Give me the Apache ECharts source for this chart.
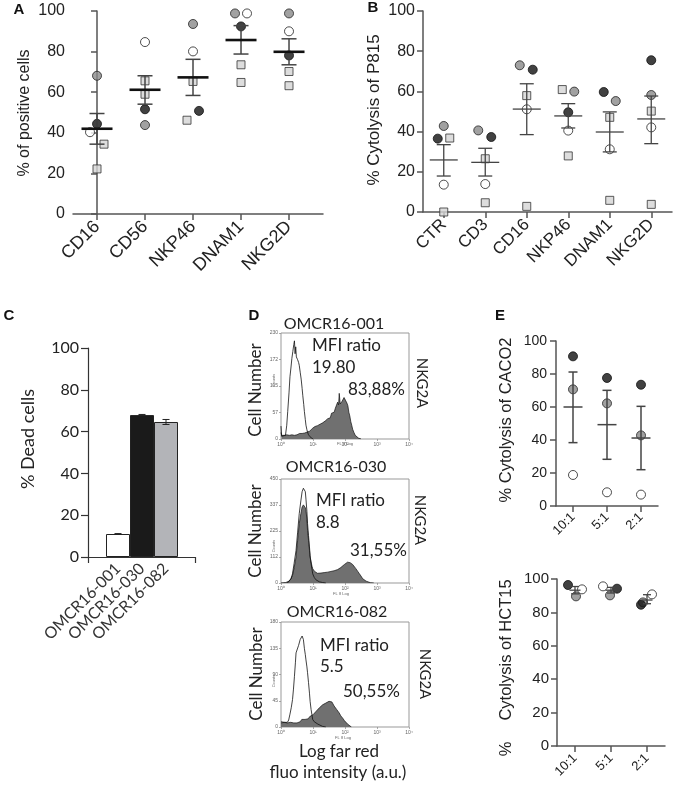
<!DOCTYPE html>
<html><head><meta charset="utf-8">
<script src="https://cdn.jsdelivr.net/npm/echarts@6/dist/echarts.min.js"></script>
<style>html,body{margin:0;padding:0;background:#fff}#c{width:676px;height:786px}</style>
</head><body><div id="c"></div>
<script>
// ---------- Panel A ----------
const catA = ['CD16','CD56','NKP46','DNAM1','NKG2D'];
const A_gray   = [68.1, 43.8, 93.6, 98.8, 98.8];
const A_black  = [44.4, 51.6, 50.8, 92.4, 78.1];
const A_white  = [40.3, 84.7, 80.1, 98.8, 90.0];
const A_sqHigh = [34.4, 65.6, 65.3, 73.5, 70.2];
const A_sqLow  = [22.2, 59.0, 46.2, 64.8, 63.2];
const A_mean   = [42.0, 61.2, 67.3, 85.7, 79.9];
const A_semHi  = [49.5, 68.1, 76.2, 92.8, 86.3];
const A_semLo  = [34.4, 54.1, 58.4, 78.8, 73.5];
// ---------- Panel B ----------
const catB = ['CTR','CD3','CD16','NKP46','DNAM1','NKG2D'];
const B_gray   = [42.8, 40.6, 73.0, 59.9, 55.2, 58.2];
const B_black  = [36.5, 37.3, 70.8, 49.6, 59.7, 75.5];
const B_white  = [13.6, 13.9, 51.1, 40.5, 31.2, 42.1];
const B_sqHigh = [36.8, 26.5, 57.9, 60.9, 47.1, 50.2];
const B_sqLow  = [0.0, 4.6, 2.8, 27.9, 5.8, 3.8];
const B_mean   = [25.9, 24.7, 51.2, 47.8, 39.8, 46.3];
const B_semHi  = [33.5, 31.7, 63.8, 53.9, 49.8, 57.7];
const B_semLo  = [17.9, 17.9, 38.5, 41.8, 29.9, 34.0];
// ---------- Panel C ----------
const catC = ['OMCR16-001','OMCR16-030','OMCR16-082'];
const C_values = [11.0, 67.9, 64.6];
const C_err    = [0.2, 0.3, 1.2];
// ---------- Panel D (histograms: [log decade, counts]) ----------
const D1_ctrl = [[0,28],[0.02,6],[0.08,4],[0.14,8],[0.18,30],[0.21,60],[0.25,100],[0.28,135],[0.31,154],[0.34,175],[0.37,190],[0.40,205],[0.42,213],[0.44,185],[0.46,200],[0.48,178],[0.50,182],[0.52,172],[0.55,166],[0.57,160],[0.60,145],[0.63,130],[0.66,110],[0.68,95],[0.71,75],[0.73,60],[0.76,42],[0.78,30],[0.81,20],[0.83,15],[0.86,9],[0.89,5],[0.95,2],[1.0,0]];
const D1_nkg2a = [[0,14],[0.02,8],[0.06,10],[0.1,8],[0.14,11],[0.18,9],[0.22,10],[0.26,8],[0.3,11],[0.34,9],[0.38,10],[0.42,8],[0.46,11],[0.5,9],[0.54,10],[0.58,12],[0.62,10],[0.66,12],[0.7,11],[0.74,13],[0.78,12],[0.82,15],[0.86,14],[0.9,17],[0.94,19],[0.98,23],[1.02,21],[1.06,27],[1.1,25],[1.14,29],[1.18,27],[1.22,32],[1.26,30],[1.3,35],[1.34,33],[1.38,39],[1.42,37],[1.46,44],[1.5,48],[1.54,46],[1.58,56],[1.62,60],[1.66,58],[1.7,67],[1.74,70],[1.77,80],[1.8,74],[1.82,99],[1.85,76],[1.88,74],[1.91,82],[1.94,78],[1.97,90],[2.0,86],[2.03,90],[2.06,78],[2.09,72],[2.12,58],[2.15,50],[2.18,38],[2.21,30],[2.24,21],[2.28,14],[2.32,8],[2.36,5],[2.42,2],[2.5,0]];
const D2_ctrl = [[0.2,0],[0.26,5],[0.31,18],[0.36,40],[0.41,85],[0.47,141],[0.52,220],[0.57,300],[0.62,355],[0.66,395],[0.7,410],[0.73,418],[0.76,395],[0.78,363],[0.81,310],[0.83,257],[0.86,205],[0.89,156],[0.91,118],[0.94,84],[0.97,58],[0.99,40],[1.04,24],[1.09,14],[1.15,8],[1.2,5],[1.3,2],[1.4,0]];
const D2_nkg2a = [[0,0],[0.15,2],[0.26,9],[0.31,18],[0.36,33],[0.41,65],[0.47,112],[0.52,185],[0.57,257],[0.62,300],[0.66,329],[0.7,338],[0.73,335],[0.76,326],[0.78,314],[0.81,275],[0.83,228],[0.86,185],[0.89,141],[0.91,112],[0.94,91],[0.97,72],[0.99,62],[1.02,56],[1.05,50],[1.09,45],[1.14,42],[1.2,40],[1.25,43],[1.3,41],[1.35,45],[1.41,44],[1.46,47],[1.51,46],[1.56,50],[1.61,49],[1.66,53],[1.72,55],[1.77,58],[1.82,62],[1.87,67],[1.93,72],[1.98,80],[2.03,84],[2.08,90],[2.12,93],[2.16,88],[2.2,86],[2.24,80],[2.29,72],[2.34,62],[2.4,50],[2.45,40],[2.5,30],[2.55,19],[2.6,13],[2.66,8],[2.72,4],[2.8,1],[2.9,0]];
const D3_ctrl = [[0,9],[0.05,6],[0.1,8],[0.15,6],[0.2,8],[0.24,12],[0.28,22],[0.32,33],[0.36,47],[0.39,65],[0.42,87],[0.45,110],[0.47,127],[0.5,132],[0.52,135],[0.55,140],[0.57,144],[0.6,150],[0.63,153],[0.66,156],[0.68,158],[0.7,150],[0.73,135],[0.76,124],[0.78,115],[0.81,103],[0.83,93],[0.86,76],[0.89,58],[0.91,44],[0.94,30],[0.97,20],[0.99,13],[1.04,9],[1.09,7],[1.15,5],[1.2,3],[1.3,1],[1.4,0]];
const D3_nkg2a = [[0,7],[0.05,5],[0.1,8],[0.15,6],[0.2,7],[0.25,5],[0.3,8],[0.35,6],[0.4,7],[0.45,9],[0.5,7],[0.55,10],[0.6,9],[0.65,13],[0.7,15],[0.75,13],[0.8,16],[0.85,14],[0.9,18],[0.95,19],[1.0,21],[1.05,24],[1.1,27],[1.15,30],[1.2,33],[1.25,35],[1.3,38],[1.35,39],[1.4,41],[1.45,42],[1.5,44],[1.53,46],[1.56,47],[1.59,43],[1.62,40],[1.66,36],[1.7,34],[1.74,30],[1.78,27],[1.82,24],[1.87,19],[1.93,15],[1.98,11],[2.03,8],[2.08,5],[2.14,2],[2.2,0]];
const D_titles = ['OMCR16-001','OMCR16-030','OMCR16-082'];
const D_mfi = ['19.80','8.8','5.5'];
const D_pct = ['83,88%','31,55%','50,55%'];
const D_ymax = [230, 450, 180];
const D_xticks = ['10\u2070','10\u00b9','10\u00b2','10\u00b3','10\u2074'];
// ---------- Panel E ----------
const catE = ['10:1','5:1','2:1'];
const E1_black = [90.7, 77.6, 73.5];
const E1_gray  = [70.7, 62.2, 42.8];
const E1_white = [18.8, 8.3, 6.9];
const E1_mean  = [60.0, 49.3, 41.2];
const E1_semHi = [81.2, 70.1, 60.4];
const E1_semLo = [38.4, 28.3, 22.0];
const E2_black = [96.4, 94.2, 84.6];
const E2_gray  = [89.6, 90.2, 86.0];
const E2_white = [93.8, 95.6, 90.8];
const E2_mean  = [93.3, 93.3, 87.4];
const E2_semHi = [95.5, 95.0, 90.6];
const E2_semLo = [91.1, 91.6, 85.2];

// ---------- jitter (pixel offsets, style only) ----------
const jitA = {gray:[0,0,0,-6,0], black:[0,0,6,0,0], white:[-7,0,0,6,0], sqHigh:[7,0,0,0,0], sqLow:[0,0,-6,0,0]};
const jitB = {gray:[0,-7,-7,6,6,0], black:[-6,6,6,0,-6,0], white:[0,0,0,0,0,0], sqHigh:[6,0,0,-6,0,0], sqLow:[0,0,0,0,0,0]};
const jitE2 = {black:[-7,6,-6], gray:[1,-1,-4], white:[7,-8,5]};

const ARIAL = 'Liberation Sans, Arial, sans-serif';
const CAL = 'Lato, Open Sans, sans-serif';
const ST = {
  gray:  {symbol:'circle', size:9, itemStyle:{color:'#8a8a8a', borderColor:'#222', borderWidth:1}},
  black: {symbol:'circle', size:9, itemStyle:{color:'#111', borderColor:'#111', borderWidth:1}},
  white: {symbol:'circle', size:9, itemStyle:{color:'#fff', borderColor:'#222', borderWidth:1}},
  sq:    {symbol:'rect', size:8, itemStyle:{color:'#d4d4d4', borderColor:'#333', borderWidth:1}}
};
function scat(ai, vals, jit, st, size) {
  return {type:'scatter', xAxisIndex:ai, yAxisIndex:ai, symbol:st.symbol, symbolSize:size||st.size,
    itemStyle:st.itemStyle, z:3, silent:true,
    data: vals.map((v,i)=>({value:[i,v], symbolOffset:[jit?jit[i]:0,0]}))};
}
function errSeries(ai, mean, hi, lo, o) {
  return {type:'custom', xAxisIndex:ai, yAxisIndex:ai, z:10, silent:true,
    encode:{x:0, y:[1,2,3]},
    data: mean.map((m,i)=>[i, m, hi[i], lo[i]]),
    renderItem:(params, api)=>{
      const m = api.coord([api.value(0), api.value(1)]);
      const h = api.coord([api.value(0), api.value(2)]);
      const l = api.coord([api.value(0), api.value(3)]);
      const cx = m[0];
      const s = {stroke:o.color, lineWidth:o.lw};
      const ch = [
        {type:'line', shape:{x1:cx, y1:h[1], x2:cx, y2:l[1]}, style:s},
        {type:'line', shape:{x1:cx-o.cap, y1:h[1], x2:cx+o.cap, y2:h[1]}, style:s},
        {type:'line', shape:{x1:cx-o.cap, y1:l[1], x2:cx+o.cap, y2:l[1]}, style:s}
      ];
      if (o.mw) ch.push({type:'line', shape:{x1:cx-o.mw, y1:m[1], x2:cx+o.mw, y2:m[1]}, style:{stroke:o.mcolor||o.color, lineWidth:o.mlw||o.lw}});
      return {type:'group', children:ch};
    }};
}
function yVal(gi, fs, margin, font, color) {
  return {type:'value', gridIndex:gi, min:0, max:100, interval:20,
    axisLine:{show:true, lineStyle:{color:color||'#555', width:1.5}},
    axisTick:{show:true, length:6, lineStyle:{color:color||'#555', width:1.5}},
    axisLabel:{fontSize:fs, color:'#222', margin:margin, fontFamily:font||ARIAL},
    splitLine:{show:false}};
}
function xCat(gi, data, fs, margin) {
  return {type:'category', gridIndex:gi, data:data, boundaryGap:true,
    axisLine:{show:true, lineStyle:{color:'#555', width:1.5}},
    axisTick:{show:true, alignWithLabel:true, length:6, lineStyle:{color:'#555', width:1.5}},
    axisLabel:{rotate:45, fontSize:fs, color:'#222', margin:margin, fontFamily:ARIAL, interval:0},
    splitLine:{show:false}};
}
function dX(gi) {
  return {type:'value', gridIndex:gi, min:0, max:4, interval:1,
    axisLine:{show:false}, axisTick:{show:true, length:2, lineStyle:{color:'#888', width:0.7}},
    axisLabel:{fontSize:5, color:'#666', margin:3, formatter:v=>D_xticks[Math.round(v)]},
    splitLine:{show:false}};
}
function dY(gi, max) {
  return {type:'value', gridIndex:gi, min:0, max:max, interval:max/4,
    axisLine:{show:false}, axisTick:{show:true, length:2, lineStyle:{color:'#888', width:0.7}},
    axisLabel:{fontSize:5, color:'#666', margin:3, formatter:v=>String(Math.floor(v))},
    splitLine:{show:false}};
}
function histSeries(ai, data, filled) {
  return {type:'line', xAxisIndex:ai, yAxisIndex:ai, data:data, symbol:'none', silent:true,
    z: filled ? 2 : 4,
    lineStyle:{color:'#111', width: filled ? 0.7 : 0.8},
    areaStyle: filled ? {color:'#707070', opacity:1} : undefined};
}

const grids = [
  {left:73, top:11, width:250, height:203},
  {left:423, top:11, width:249, height:201},
  {left:88, top:348, width:107, height:209},
  {left:106, top:348, width:72, height:209},
  {left:281, top:333, width:128, height:106, show:true, borderColor:'#999', borderWidth:1},
  {left:281, top:479, width:128, height:104, show:true, borderColor:'#999', borderWidth:1},
  {left:281, top:622, width:128, height:105, show:true, borderColor:'#999', borderWidth:1},
  {left:556, top:341, width:102, height:165},
  {left:557, top:579, width:108, height:167}
];

const xAxes = [
  {type:'value', gridIndex:0, min:-0.5, max:4.708,
    axisLine:{show:true, onZero:false, lineStyle:{color:'#555', width:1.5}},
    axisTick:{show:true, length:6, customValues:[0,1,2,3,4], lineStyle:{color:'#555', width:1.5}},
    axisLabel:{rotate:45, fontSize:18, color:'#222', margin:10, fontFamily:ARIAL, customValues:[0,1,2,3,4], formatter:v=>catA[Math.round(v)]},
    splitLine:{show:false}},
  xCat(1, catB, 17, 10),
  {type:'category', gridIndex:2, data:[''], boundaryGap:true,
    axisLine:{show:true, lineStyle:{color:'#333', width:1.2}},
    axisTick:{show:true, alignWithLabel:false, length:6, lineStyle:{color:'#333', width:1.2}},
    axisLabel:{show:false}},
  {type:'category', gridIndex:3, data:catC, boundaryGap:true,
    axisLine:{show:false}, axisTick:{show:false},
    axisLabel:{rotate:45, fontSize:16, color:'#333', margin:9, fontFamily:CAL, interval:0}},
  dX(4), dX(5), dX(6),
  xCat(7, catE, 13, 9),
  xCat(8, catE, 13, 10)
];
const yAxes = [
  yVal(0, 16, 8),
  yVal(1, 16, 8),
  Object.assign(yVal(2, 16, 9, CAL, '#333'), {axisTick:{show:true, length:7, lineStyle:{color:'#333', width:1.2}}, axisLine:{show:true, lineStyle:{color:'#333', width:1.2}}}),
  {type:'value', gridIndex:3, min:0, max:100, show:false},
  dY(4, D_ymax[0]), dY(5, D_ymax[1]), dY(6, D_ymax[2]),
  yVal(7, 14, 9),
  yVal(8, 15, 8)
];

const series = [];
// A
series.push(scat(0, A_sqLow, jitA.sqLow, ST.sq));
series.push(scat(0, A_sqHigh, jitA.sqHigh, ST.sq));
series.push(scat(0, A_gray, jitA.gray, ST.gray));
series.push(scat(0, A_white, jitA.white, ST.white));
series.push(scat(0, A_black, jitA.black, ST.black));
series.push(errSeries(0, A_mean, A_semHi, A_semLo, {color:'#444', lw:1.5, cap:7.5, mw:15.5, mcolor:'#111', mlw:2.6}));
// B
series.push(scat(1, B_sqLow, jitB.sqLow, ST.sq));
series.push(scat(1, B_sqHigh, jitB.sqHigh, ST.sq));
series.push(scat(1, B_gray, jitB.gray, ST.gray));
series.push(scat(1, B_white, jitB.white, ST.white));
series.push(scat(1, B_black, jitB.black, ST.black));
series.push(errSeries(1, B_mean, B_semHi, B_semLo, {color:'#444', lw:1.3, cap:7, mw:14}));
// C
series.push({type:'bar', xAxisIndex:3, yAxisIndex:3, barWidth:'100%', silent:true,
  data: C_values.map((v,i)=>({value:v, itemStyle:{color:['#ffffff','#1a1a1a','#b3b4b8'][i]}})),
  itemStyle:{borderColor:'#222', borderWidth:1}});
series.push(errSeries(3, C_values, C_values.map((v,i)=>v+C_err[i]), C_values.map((v,i)=>v-C_err[i]), {color:'#222', lw:1, cap:3.5}));
// D
series.push(histSeries(4, D1_nkg2a, true)); series.push(histSeries(4, D1_ctrl, false));
series.push(histSeries(5, D2_nkg2a, true)); series.push(histSeries(5, D2_ctrl, false));
series.push(histSeries(6, D3_nkg2a, true)); series.push(histSeries(6, D3_ctrl, false));
// E top
series.push(scat(7, E1_white, null, ST.white));
series.push(scat(7, E1_gray, null, ST.gray));
series.push(scat(7, E1_black, null, ST.black));
series.push(errSeries(7, E1_mean, E1_semHi, E1_semLo, {color:'#444', lw:1.5, cap:4.5, mw:9.5}));
// E bottom
series.push(scat(8, E2_gray, jitE2.gray, ST.gray));
series.push(scat(8, E2_black, jitE2.black, ST.black));
series.push(scat(8, E2_white, jitE2.white, ST.white));
series.push(errSeries(8, E2_mean, E2_semHi, E2_semLo, {color:'#444', lw:1.3, cap:4, mw:5.5}));

function txt(x, y, text, font, opts) {
  opts = opts || {};
  return {type:'text', x:x, y:y, rotation:opts.rot||0, silent:true, z:20,
    style:{text:text, font:font, fill:opts.fill||'#222',
      textAlign:opts.align||'center', textVerticalAlign:'middle', align:opts.align||'center', verticalAlign:'middle'}};
}
const R = Math.PI/2;
const graphics = [
  txt(19, 10, 'A', 'bold 15px ' + ARIAL, {fill:'#111'}),
  txt(373, 8, 'B', 'bold 15px ' + ARIAL, {fill:'#111'}),
  txt(9, 316, 'C', 'bold 15px ' + ARIAL, {fill:'#111'}),
  txt(254, 316, 'D', 'bold 15px ' + ARIAL, {fill:'#111'}),
  txt(500, 316, 'E', 'bold 15px ' + ARIAL, {fill:'#111'}),
  txt(25, 113, '% of positive cells', '16px ' + ARIAL, {rot:R}),
  txt(374, 110, '% Cytolysis of P815', '17px ' + ARIAL, {rot:R}),
  txt(28, 439, '% Dead cells', '18px ' + CAL, {rot:R}),
  txt(506, 420, '% Cytolysis of CACO2', '16.5px ' + ARIAL, {rot:R}),
  txt(506, 650, 'Cytolysis of HCT15', '16.5px ' + ARIAL, {rot:R}),
  txt(506, 749, '%', '16.5px ' + ARIAL, {rot:R}),
  txt(339, 752, 'Log far red', '17px ' + CAL),
  txt(338, 773, 'fluo intensity (a.u.)', '17px ' + CAL)
];
const dPos = [
  {title:[334,324], cell:[256,390], counts:[274,380], fl:[345,444], mfi:[312,346], val:[312,368], pct:[348,390], nk:[422,383]},
  {title:[336,467], cell:[256,531], counts:[274,546], fl:[341,594], mfi:[316,501], val:[316,523], pct:[350,551], nk:[420,520]},
  {title:[337,612], cell:[257,674], counts:[274,681], fl:[343,738], mfi:[320,646], val:[320,667], pct:[343,692], nk:[425,674]}
];
dPos.forEach((p,i)=>{
  graphics.push(txt(p.title[0], p.title[1], D_titles[i], '16px ' + CAL));
  graphics.push(txt(p.cell[0], p.cell[1], 'Cell Number', '17px ' + CAL, {rot:R}));
  graphics.push(txt(p.counts[0], p.counts[1], 'Counts', '4px ' + ARIAL, {rot:R, fill:'#666'}));
  graphics.push(txt(p.fl[0], p.fl[1], 'FL 8 Log', '4px ' + ARIAL, {fill:'#666'}));
  graphics.push(txt(p.mfi[0], p.mfi[1], 'MFI ratio', '17px ' + CAL, {align:'left'}));
  graphics.push(txt(p.val[0], p.val[1], D_mfi[i], '17px ' + CAL, {align:'left'}));
  graphics.push(txt(p.pct[0], p.pct[1], D_pct[i], '17px ' + CAL, {align:'left'}));
  graphics.push(txt(p.nk[0], p.nk[1], 'NKG2A', '15px ' + CAL, {rot:-R}));
});

const chart = echarts.init(document.getElementById('c'), null, {renderer:'canvas'});
chart.setOption({
  animation:false,
  grid:grids, xAxis:xAxes, yAxis:yAxes, series:series, graphic:graphics
});
</script>
</body></html>
